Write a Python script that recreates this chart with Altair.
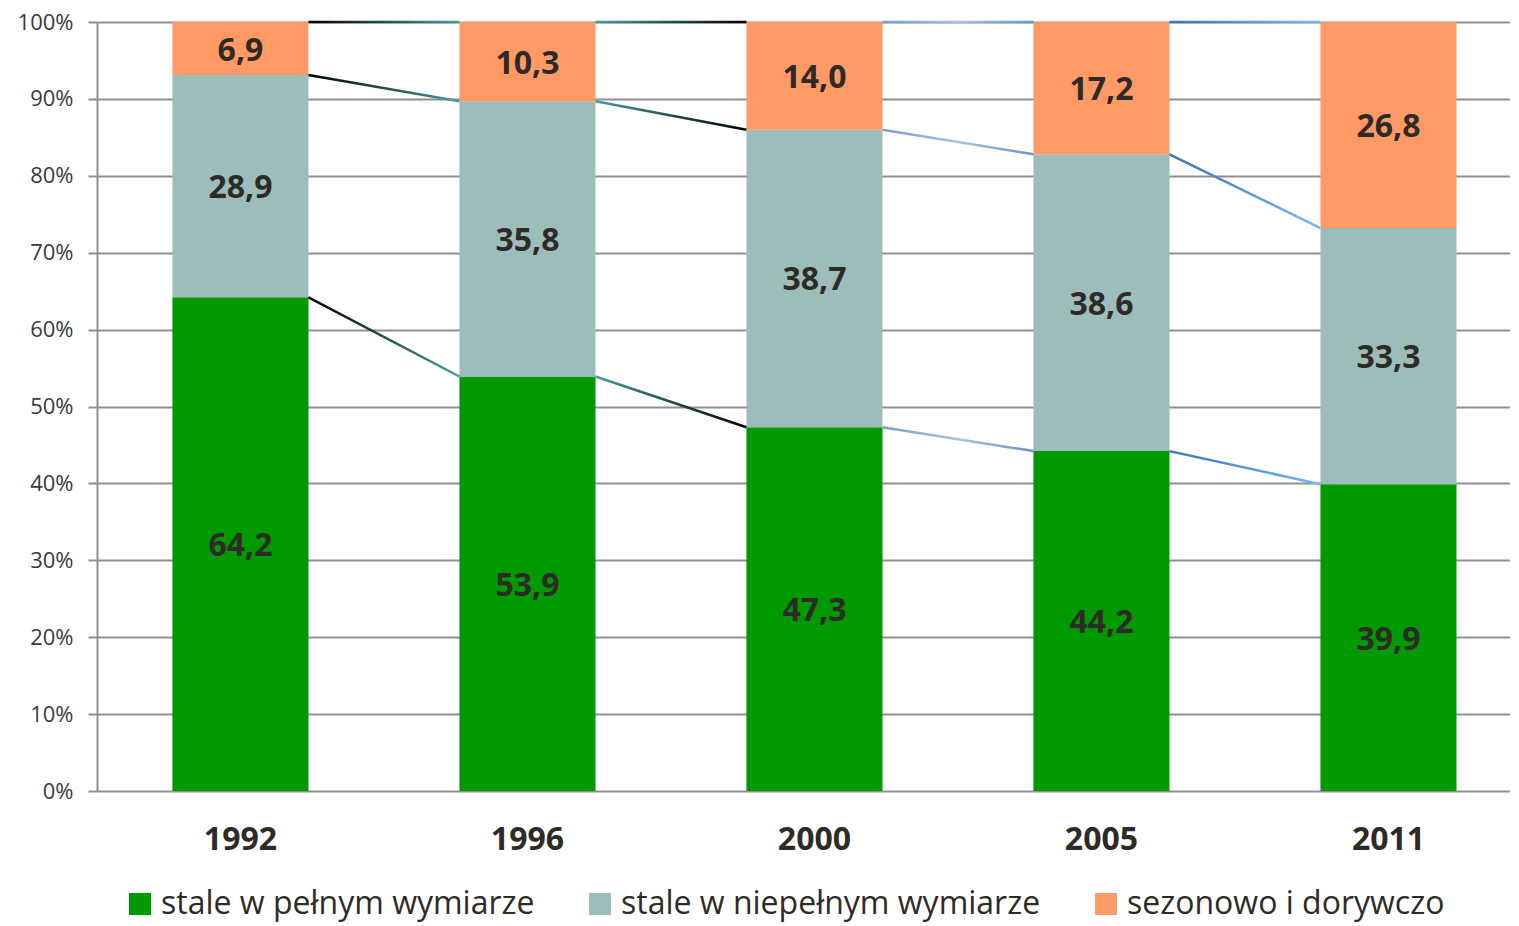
import altair as alt
import pandas as pd

years = ["1992", "1996", "2000", "2005", "2011"]
full_time = [64.2, 53.9, 47.3, 44.2, 39.9]
part_time = [28.9, 35.8, 38.7, 38.6, 33.3]
seasonal = [6.9, 10.3, 14.0, 17.2, 26.8]
series = ["stale w pełnym wymiarze", "stale w niepełnym wymiarze", "sezonowo i dorywczo"]
colors = ["#009900", "#9dbdbb", "#ff9966"]
y_ticks = [0, 10, 20, 30, 40, 50, 60, 70, 80, 90, 100]
# colour stops of the connector lines, one list per gap between bars
seg_stops = [
    ["#000000", "#4a9da0"],
    ["#4a9da0", "#000000"],
    ["#7b9cc8", "#abc2de", "#6a93c7"],
    ["#3c72b6", "#78b8f8"],
]

FONT = "Open Sans"
TXT = "#2e2a26"
GRID = "#8f8f8f"

rows = []
for i, yr in enumerate(years):
    for k, vals in enumerate([full_time, part_time, seasonal]):
        rows.append({"year": yr, "series": series[k], "value": vals[i], "ord": k})
df = pd.DataFrame(rows)

# connector lines between the bars (segment boundaries)
line_rows = []
top_rows = []
for i in range(len(years) - 1):
    a1 = full_time[i]
    b1 = full_time[i + 1]
    a2 = full_time[i] + part_time[i]
    b2 = full_time[i + 1] + part_time[i + 1]
    line_rows.append({"seg": i, "year": years[i], "next": years[i + 1], "ya": a1, "yb": b1})
    line_rows.append({"seg": i, "year": years[i], "next": years[i + 1], "ya": a2, "yb": b2})
    top_rows.append({"seg": i, "year": years[i], "next": years[i + 1], "top": 100})
lines_df = pd.DataFrame(line_rows)
top_df = pd.DataFrame(top_rows)

x_scale = alt.Scale(domain=years, paddingInner=0.526, paddingOuter=0.2246, align=0.585)
y_scale = alt.Scale(domain=[0, 100], nice=False)

base = alt.Chart(df).transform_stack(
    stack="value", groupby=["year"], as_=["y0", "y1"],
    sort=[alt.SortField("ord", order="ascending")]
).transform_calculate(
    mid="(datum.y0 + datum.y1) / 2",
    label="replace(format(datum.value, '.1f'), '.', ',')"
)

bars = base.mark_bar().encode(
    x=alt.X("year:N", scale=x_scale, title=None,
            axis=alt.Axis(labelFontSize=32, labelFontWeight="bold", labelColor=TXT,
                          labelAngle=0, ticks=False, domain=False, grid=False,
                          labelPadding=33, labelFont=FONT)),
    y=alt.Y("y0:Q", scale=y_scale, title=None,
            axis=alt.Axis(values=y_ticks, labelExpr="datum.value + '%'",
                          labelFontSize=22, labelColor="#3a3a3a", labelFont=FONT,
                          tickSize=9, tickColor=GRID, tickWidth=2,
                          domainColor=GRID, domainWidth=2,
                          gridColor=GRID, gridWidth=2, labelPadding=15)),
    y2="y1:Q",
    color=alt.Color("series:N", scale=alt.Scale(domain=series, range=colors),
                    legend=alt.Legend(title=None, orient="none", legendX=27, legendY=866,
                                      direction="horizontal", columns=3,
                                      symbolType="square", symbolSize=484,
                                      symbolStrokeWidth=0, labelFontSize=32,
                                      labelFont=FONT, labelColor=TXT, labelOffset=5,
                                      labelLimit=800, columnPadding=49)),
    order=alt.Order("ord:Q"),
)

text = base.mark_text(font=FONT, fontSize=32, fontWeight="bold", color=TXT, dy=2).encode(
    x=alt.X("year:N", scale=x_scale),
    y=alt.Y("mid:Q", scale=y_scale),
    text="label:N",
)

layers = [bars]
for i, stops in enumerate(seg_stops):
    n = len(stops)
    grad = alt.Gradient(
        gradient="linear",
        stops=[alt.GradientStop(color=c, offset=j / (n - 1)) for j, c in enumerate(stops)],
        x1=0, x2=1, y1=0, y2=0,
    )
    rule = alt.Chart(lines_df).transform_filter(f"datum.seg == {i}").mark_rule(
        stroke=grad, strokeWidth=2.5
    ).encode(
        x=alt.X("year:N", scale=x_scale, bandPosition=1),
        x2=alt.X2("next:N", bandPosition=0),
        y=alt.Y("ya:Q", scale=y_scale),
        y2="yb:Q",
    )
    top = alt.Chart(top_df).transform_filter(f"datum.seg == {i}").mark_rect(
        fill=grad, yOffset=-1.3, y2Offset=1.3
    ).encode(
        x=alt.X("year:N", scale=x_scale, bandPosition=1),
        x2=alt.X2("next:N", bandPosition=0),
        y=alt.Y("top:Q", scale=y_scale),
        y2="top:Q",
    )
    layers += [rule, top]
layers.append(text)

chart = alt.layer(*layers).properties(
    width=1413, height=769,
    autosize=alt.AutoSizeParams(type="none"),
    padding={"left": 89, "top": 14, "right": 0, "bottom": 131},
).configure(font=FONT).configure_view(strokeWidth=0)

chart.save("out.html", embed_options={"renderer": "svg", "actions": False})
